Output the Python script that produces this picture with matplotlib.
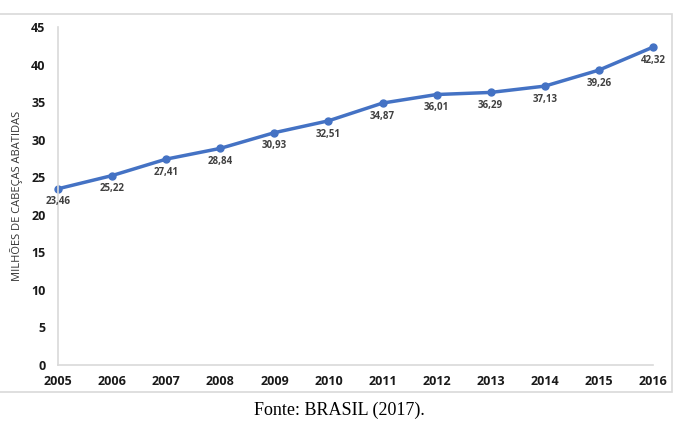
import matplotlib
matplotlib.use("Agg")
import matplotlib.pyplot as plt
from matplotlib.patches import Rectangle

years = [2005, 2006, 2007, 2008, 2009, 2010, 2011, 2012, 2013, 2014, 2015, 2016]
abates = [23.46, 25.22, 27.41, 28.84, 30.93, 32.51, 34.87, 36.01, 36.29, 37.13, 39.26, 42.32]
y_ticks = [0, 5, 10, 15, 20, 25, 30, 35, 40, 45]

plt.rcParams["font.family"] = ["Open Sans", "DejaVu Sans"]

fig = plt.figure(figsize=(6.78, 4.32), dpi=100)
ax = fig.add_axes([58 / 678, 1 - 365 / 432, 595 / 678, 338 / 432])

ax.plot(years, abates, color="#4472C4", linewidth=2.5, marker="o",
        markersize=5, clip_on=False)
for x, v in zip(years, abates):
    ax.annotate(f"{v:.2f}".replace(".", ","), (x, v), xytext=(0, -9.5),
                textcoords="offset points", ha="center", va="center",
                fontsize=7, fontweight="bold", color="#404040")

ax.set_xlim(years[0], years[-1])
ax.set_ylim(0, 45)
ax.set_xticks(years)
ax.set_yticks(y_ticks)
ax.tick_params(length=0, labelsize=9, pad=9)
for lab in ax.get_xticklabels() + ax.get_yticklabels():
    lab.set_fontweight("bold")
    lab.set_color("#1a1a1a")
ax.tick_params(axis="x", pad=7)

for s in ["top", "right"]:
    ax.spines[s].set_visible(False)
for s in ["left", "bottom"]:
    ax.spines[s].set_color("#d9d9d9")
    ax.spines[s].set_linewidth(1.2)

ax.set_ylabel("MILHÕES DE CABEÇAS ABATIDAS", fontsize=8, color="#333333", labelpad=6)

# chart frame
fig.patches.append(Rectangle((-0.01, 1 - 392 / 432), 0.01 + 672 / 678, 378 / 432,
                             transform=fig.transFigure, fill=False,
                             edgecolor="#d9d9d9", linewidth=1.2))

fig.text(0.5, 1 - 410 / 432, "Fonte: BRASIL (2017).", ha="center", va="center",
         fontsize=13, family=["Liberation Serif", "DejaVu Serif"])

fig.savefig("out.png", dpi=100)
